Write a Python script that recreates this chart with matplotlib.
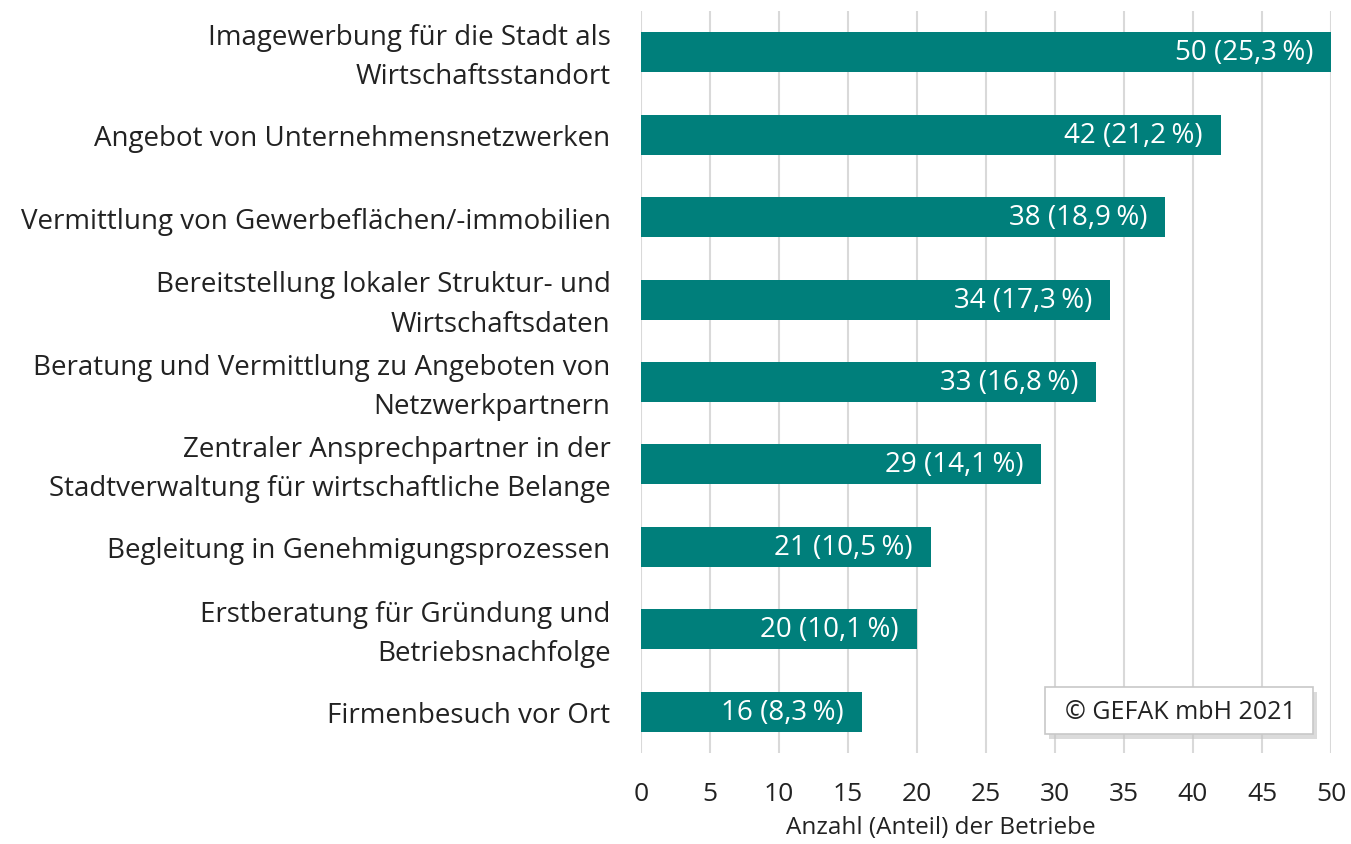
import matplotlib.pyplot as plt
from matplotlib.patches import FancyBboxPatch
from matplotlib.transforms import ScaledTranslation

# data (top to bottom)
kategorien = [
    'Imagewerbung für die Stadt als\nWirtschaftsstandort',
    'Angebot von Unternehmensnetzwerken',
    'Vermittlung von Gewerbeflächen/-immobilien',
    'Bereitstellung lokaler Struktur- und\nWirtschaftsdaten',
    'Beratung und Vermittlung zu Angeboten von\nNetzwerkpartnern',
    'Zentraler Ansprechpartner in der\nStadtverwaltung für wirtschaftliche Belange',
    'Begleitung in Genehmigungsprozessen',
    'Erstberatung für Gründung und\nBetriebsnachfolge',
    'Firmenbesuch vor Ort',
]
anzahl = [50, 42, 38, 34, 33, 29, 21, 20, 16]
anteil = ['25,3', '21,2', '18,9', '17,3', '16,8', '14,1', '10,5', '10,1', '8,3']
xticks = [0, 5, 10, 15, 20, 25, 30, 35, 40, 45, 50]

plt.rcParams['font.family'] = ['Open Sans', 'DejaVu Sans']

fig = plt.figure(figsize=(13.51, 8.45), dpi=100)
ax = fig.add_axes([641 / 1351, 91 / 845, 690 / 1351, 742 / 845])

pos = list(range(len(kategorien)))
ax.barh(pos, anzahl, height=0.485, color='#007f7b', zorder=2)

# werte in den balken
for p, n, a in zip(pos, anzahl, anteil):
    ax.text(n - 1.3, p, '%d (%s\u202f%%)' % (n, a), color='white',
            ha='right', va='center', fontsize=20, zorder=3)

ax.set_ylim(len(kategorien) - 0.5, -0.5)
ax.set_xlim(0, 50)
ax.set_yticks(pos)
ax.set_yticklabels(kategorien, fontsize=20, color='#222222', linespacing=1.55)
ax.set_xticks(xticks)
ax.set_xticklabels([str(t) for t in xticks], fontsize=19, color='#222222')
ax.tick_params(axis='both', length=0)
ax.tick_params(axis='x', pad=20)
ax.tick_params(axis='y', pad=22)
# zweizeilige beschriftungen etwas nach oben (nach tick_params, sonst zurueckgesetzt)
for lab in ax.get_yticklabels():
    if '\n' in lab.get_text():
        lab.set_transform(lab.get_transform() + ScaledTranslation(0, 0.05, fig.dpi_scale_trans))
ax.grid(axis='x', color='#d9d9d9', linewidth=1.5, zorder=0)
for s in ax.spines.values():
    s.set_visible(False)
ax.set_xlabel('Anzahl (Anteil) der Betriebe', fontsize=17.5, color='#222222')
ax.xaxis.set_label_coords(0.435, -62 / 742)

# copyright kasten mit schatten
shadow = FancyBboxPatch((1049 / 1351, 105 / 845), 268 / 1351, 47 / 845,
                        boxstyle='square,pad=0', transform=fig.transFigure,
                        facecolor='#c4c4c4', edgecolor='none', alpha=0.6, zorder=4)
box = FancyBboxPatch((1045 / 1351, 110 / 845), 268 / 1351, 47 / 845,
                     boxstyle='square,pad=0', transform=fig.transFigure,
                     facecolor='white', edgecolor='#c8c8c8', linewidth=1.2, zorder=5)
fig.patches.append(shadow)
fig.patches.append(box)
fig.text(1180 / 1351, 132 / 845, '© GEFAK mbH 2021', ha='center', va='center',
         fontsize=18, color='#222222', zorder=6)

fig.savefig('out.png', dpi=100)
